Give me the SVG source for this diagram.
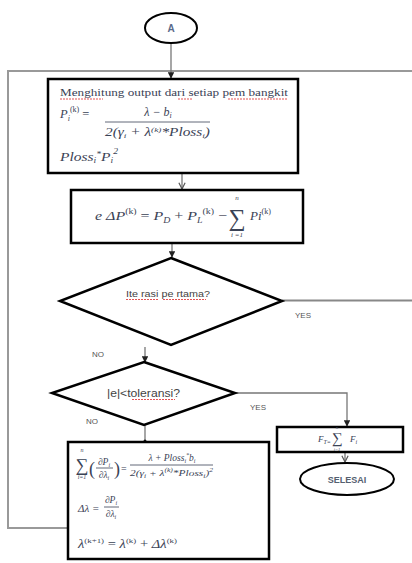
<svg xmlns="http://www.w3.org/2000/svg" width="412" height="563" viewBox="0 0 412 563">
<style>
.box{fill:#fff;stroke:#000;stroke-width:2.5}
.term{fill:#fff;stroke:#000;stroke-width:2}
.con{fill:none;stroke:#777;stroke-width:1.3}
.loop{fill:none;stroke:#999;stroke-width:2}
.m{font-family:"Liberation Serif",serif;font-style:italic;fill:#3a4255}
.mr{font-family:"Liberation Serif",serif;fill:#3a4255}
.s{font-family:"Liberation Sans",Arial,sans-serif;fill:#444}
.lbl{font-family:"Liberation Sans",Arial,sans-serif;font-size:8px;fill:#555}
.sq{fill:none;stroke:#e04040;stroke-width:0.9;stroke-dasharray:2 1}
.bar{stroke:#3a4255;stroke-width:0.8}
</style>
<defs>
<marker id="ah" viewBox="0 0 10 10" refX="9" refY="5" markerWidth="6" markerHeight="6" orient="auto">
<path d="M1,1 L9,5 L1,9" fill="none" stroke="#555" stroke-width="1.5"/>
</marker>
<marker id="af" viewBox="0 0 10 10" refX="9" refY="5" markerWidth="5" markerHeight="5" orient="auto">
<path d="M0,0 L10,5 L0,10 z" fill="#222"/>
</marker>
</defs>

<g id="connectors">
<polyline class="loop" points="68,528 8,528 8,71 412,71"/>
<line class="con" x1="171" y1="43" x2="171" y2="78" marker-end="url(#af)"/>
<polygon points="161,80 171,86 165,85" fill="#111"/>
<path d="M180,79 L172,86 L176,79" fill="none" stroke="#888" stroke-width="1.2"/>
<line class="con" x1="182" y1="173" x2="182" y2="189" marker-end="url(#ah)"/>
<line class="con" x1="172" y1="243" x2="172" y2="257" marker-end="url(#af)"/>
<line class="con" x1="282" y1="300.5" x2="412" y2="300.5" style="stroke:#888;stroke-width:1.8"/>
<line class="con" x1="145" y1="347" x2="145" y2="362" marker-end="url(#af)"/>
<polyline class="con" points="235,393 347,393 347,426" marker-end="url(#af)"/>
<line class="con" x1="145" y1="425" x2="145" y2="442"/>
<circle cx="145" cy="441" r="1.5" fill="#111"/>
<line class="con" x1="345" y1="452" x2="345" y2="462" marker-end="url(#ah)"/>
</g>

<g id="start">
<ellipse class="term" cx="171" cy="28" rx="26" ry="15"/>
<text x="171" y="32" text-anchor="middle" class="s" font-size="10" font-weight="bold" style="fill:#5a6a8a">A</text>
</g>

<g id="box1">
<rect class="box" x="48" y="79" width="250" height="94"/>
<text x="60" y="96" class="mr" font-size="10.5" textLength="228" lengthAdjust="spacingAndGlyphs">Menghitung output dari setiap pem bangkit</text>
<path class="sq" d="M60,99 H103 M178,99 H193 M228,99 H288"/>
<text x="60" y="118" class="m" font-size="12.5">P<tspan font-size="8" dy="3">i</tspan><tspan font-size="8" dy="-9" font-style="normal">(k)</tspan><tspan dy="6" font-style="normal"> = </tspan></text>
<text x="158" y="116" text-anchor="middle" class="m" font-size="12">λ − b<tspan font-size="8" dy="2">i</tspan></text>
<line class="bar" x1="105" y1="122" x2="210" y2="122"/>
<text x="105" y="136" class="m" font-size="11.5" textLength="105" lengthAdjust="spacingAndGlyphs">2(γ<tspan font-size="7" dy="2">i</tspan><tspan dy="-2"> + λ</tspan><tspan font-size="7" dy="-4">(k)</tspan><tspan dy="4">*Ploss</tspan><tspan font-size="7" dy="2">i</tspan><tspan dy="-2">)</tspan></text>
<text x="60" y="161" class="m" font-size="13" textLength="58" lengthAdjust="spacingAndGlyphs">Ploss<tspan font-size="8" dy="2">i</tspan><tspan dy="-6" font-size="8">*</tspan><tspan dy="4">P</tspan><tspan font-size="8" dy="2">i</tspan><tspan font-size="8" dy="-9">2</tspan></text>
</g>

<g id="box2">
<rect class="box" x="71" y="190" width="232" height="53"/>
<text x="95" y="220" class="m" font-size="13" textLength="132" lengthAdjust="spacingAndGlyphs">e ΔP<tspan font-size="8" dy="-6" font-style="normal">(k)</tspan><tspan dy="6" font-style="normal"> = </tspan>P<tspan font-size="8" dy="3">D</tspan><tspan dy="-3" font-style="normal"> + </tspan>P<tspan font-size="8" dy="3">L</tspan><tspan font-size="8" dy="-9" font-style="normal">(k)</tspan><tspan dy="6" font-style="normal"> −</tspan></text>
<text x="237" y="200" text-anchor="middle" class="m" font-size="7">n</text>
<text x="237" y="226" text-anchor="middle" class="mr" font-size="24">∑</text>
<text x="237" y="237" text-anchor="middle" class="m" font-size="7">i =1</text>
<text x="250" y="220" class="m" font-size="13">Pi<tspan font-size="8" dy="-6" font-style="normal">(k)</tspan></text>
</g>

<g id="decision1">
<polygon class="box" points="171,258 282,301 171,345 60,301"/>
<text x="126" y="297" class="s" font-size="9" textLength="84" lengthAdjust="spacingAndGlyphs">Ite rasi pe rtama?</text>
<path class="sq" d="M126,299.5 H159 M163,299.5 H206"/>
</g>
<text x="295" y="318" class="lbl">YES</text>
<text x="92" y="357" class="lbl">NO</text>

<g id="decision2">
<polygon class="box" points="144,362 235,393 144,425 52,393"/>
<text x="107" y="397" class="s" font-size="10" textLength="73" lengthAdjust="spacingAndGlyphs">|e|&lt;toleransi?</text>
<path class="sq" d="M132,399.5 H175"/>
</g>
<text x="250" y="410" class="lbl">YES</text>
<text x="86" y="424" class="lbl">NO</text>

<g id="box3">
<rect class="box" x="277" y="427" width="126" height="25"/>
<text x="318" y="442" class="m" font-size="9">F<tspan font-size="6" dy="2">T=</tspan></text>
<text x="337" y="429" text-anchor="middle" class="m" font-size="5">n</text>
<text x="337" y="443" text-anchor="middle" class="mr" font-size="15">∑</text>
<text x="337" y="450.5" text-anchor="middle" class="m" font-size="4.5">i=1</text>
<text x="350" y="442" class="m" font-size="9">F<tspan font-size="6" dy="2">i</tspan></text>
</g>

<g id="end">
<ellipse class="term" cx="347" cy="479" rx="47" ry="16"/>
<text x="347" y="483" text-anchor="middle" class="s" font-size="9" font-weight="bold" style="fill:#556070">SELESAI</text>
</g>

<g id="box4">
<rect class="box" x="68" y="442" width="201" height="117"/>
<text x="82" y="452" text-anchor="middle" class="m" font-size="6">n</text>
<text x="82" y="471" text-anchor="middle" class="mr" font-size="18">∑</text>
<text x="82" y="479" text-anchor="middle" class="m" font-size="6">i=1</text>
<text x="89" y="475" class="mr" font-size="18">(</text>
<text x="104" y="465" text-anchor="middle" class="m" font-size="9.5">∂P<tspan font-size="6" dy="2">i</tspan></text>
<line class="bar" x1="96" y1="468" x2="113" y2="468"/>
<text x="104" y="478" text-anchor="middle" class="m" font-size="9.5">∂λ<tspan font-size="6" dy="2">i</tspan></text>
<text x="114" y="475" class="mr" font-size="18">)</text>
<text x="121" y="472" class="mr" font-size="10">=</text>
<text x="172" y="461" text-anchor="middle" class="m" font-size="9.5">λ + Ploss<tspan font-size="6" dy="2">i</tspan><tspan font-size="6" dy="-6">*</tspan><tspan dy="4">b</tspan><tspan font-size="6" dy="2">i</tspan></text>
<line class="bar" x1="130" y1="465" x2="213" y2="465"/>
<text x="130" y="476" class="m" font-size="9" textLength="83" lengthAdjust="spacingAndGlyphs">2(γ<tspan font-size="6" dy="2">i</tspan><tspan dy="-2"> + λ</tspan><tspan font-size="6" dy="-4">(k)</tspan><tspan dy="4">*Ploss</tspan><tspan font-size="6" dy="2">i</tspan><tspan dy="-2">)</tspan><tspan font-size="6" dy="-4">2</tspan></text>
<text x="78" y="512" class="m" font-size="11">Δλ =</text>
<text x="111" y="503" text-anchor="middle" class="m" font-size="9.5">∂P<tspan font-size="6" dy="2">i</tspan></text>
<line class="bar" x1="104" y1="507" x2="119" y2="507"/>
<text x="111" y="517" text-anchor="middle" class="m" font-size="9.5">∂λ<tspan font-size="6" dy="2">i</tspan></text>
<text x="78" y="548" class="m" font-size="11.5" textLength="99" lengthAdjust="spacingAndGlyphs">λ<tspan font-size="7" dy="-5" font-style="normal">(k+1)</tspan><tspan dy="5" font-style="normal"> = </tspan>λ<tspan font-size="7" dy="-5" font-style="normal">(k)</tspan><tspan dy="5" font-style="normal"> + </tspan>Δλ<tspan font-size="7" dy="-5" font-style="normal">(k)</tspan></text>
</g>
</svg>
